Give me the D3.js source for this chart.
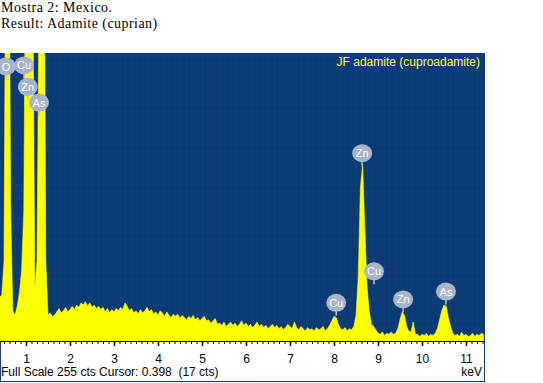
<!DOCTYPE html>
<html>
<head>
<meta charset="utf-8">
<script src="https://cdn.jsdelivr.net/npm/d3@7"></script>
<style>
  html, body { margin: 0; padding: 0; background: #ffffff; }
  svg { display: block; }
</style>
</head>
<body>
<svg id="chart" width="543" height="383"></svg>
<script>
// ---- data ----
const headerLines = ["Mostra 2: Mexico.", "Result: Adamite (cuprian)"];
const spectrumTitle = "JF adamite (cuproadamite)";
const statusText = "Full Scale 255 cts Cursor: 0.398  (17 cts)";
const unitLabel = "keV";
const fullScale = 255;

// channel calibration: energy of first channel and step (keV)
const energyStart = 0.40;
const energyStep = 0.05;
// counts per channel, 0.40 .. 11.40 keV
const counts = [
  38, 40, 70, 450, 520, 120, 26, 22, 30, 42, 62, 115, 420, 700, 650, 360, 46, 70, 320, 800,
  480, 70, 22, 24, 21, 22, 25, 28, 24, 26, 29, 25, 27, 30, 27, 31, 29, 33, 31, 34,
  30, 33, 29, 31, 28, 30, 27, 29, 25, 28, 24, 27, 25, 28, 26, 29, 27, 33, 30, 26,
  28, 24, 26, 23, 27, 24, 26, 29, 25, 27, 23, 25, 22, 26, 24, 21, 25, 22, 20, 23,
  21, 23, 19, 22, 20, 18, 21, 19, 22, 18, 20, 17, 19, 21, 17, 18, 15, 17, 19, 14,
  15, 13, 16, 12, 14, 16, 13, 15, 12, 14, 17, 13, 15, 12, 14, 11, 13, 16, 12, 14,
  11, 13, 10, 12, 14, 11, 13, 10, 12, 9, 11, 14, 12, 10, 16, 11, 9, 12, 10, 8,
  11, 9, 10, 8, 11, 9, 10, 12, 8, 10, 13, 17, 21, 20, 14, 10, 9, 11, 8, 10,
  9, 12, 22, 55, 135, 156, 100, 48, 26, 14, 12, 9, 6, 5, 7, 4, 6, 5, 7, 5,
  6, 10, 18, 25, 22, 12, 8, 7, 16, 5, 5, 3, 5, 4, 6, 3, 5, 4, 6, 10,
  18, 26, 31, 30, 20, 12, 6, 4, 5, 3, 7, 4, 5, 3, 4, 6, 3, 5, 4, 6, 5
];

const majorTicks = [1, 2, 3, 4, 5, 6, 7, 8, 9, 10, 11];
const tickLabels = ["1", "2", "3", "4", "5", "6", "7", "8", "9", "10", "11"];

// peak identification markers (element, energy keV, marker height in counts)
const peakNames    = ["O",   "Cu",  "Zn",  "As",  "Zn",  "Cu",  "Cu",  "Zn",  "As"];
const peakEnergies = [0.545, 0.955, 1.04,  1.295, 8.64,  8.91,  8.05,  9.57,  10.545];
const peakHeights  = [243,   244,   225,   211,   166,   61,    33,    36,    43];

// ---- layout ----
const svg = d3.select("#chart");
const plot = { left: 0, right: 484, top: 53, bottom: 340 };

const x = d3.scaleLinear().domain([0, 11]).range([-18, 466]);
const y = d3.scaleLinear().domain([0, fullScale]).range([plot.bottom, plot.top]);

// header text
svg.selectAll("text.header").data(headerLines).join("text")
  .attr("class", "header")
  .attr("x", 1)
  .attr("y", (d, i) => 12 + i * 16)
  .attr("font-family", "'Liberation Serif', 'Times New Roman', serif")
  .attr("font-size", 14)
  .attr("letter-spacing", 0.45)
  .attr("fill", "#000")
  .text(d => d);

// axis panel frame
svg.append("rect")
  .attr("x", 0.5).attr("y", plot.top + 0.5)
  .attr("width", plot.right).attr("height", 381 - plot.top)
  .attr("fill", "#ffffff").attr("stroke", "#1b3c6e").attr("stroke-width", 1);

// plot background
svg.append("rect")
  .attr("x", plot.left).attr("y", plot.top)
  .attr("width", plot.right - plot.left + 1).attr("height", plot.bottom - plot.top + 1)
  .attr("fill", "#0b3a74");

svg.append("defs").append("clipPath").attr("id", "clip")
  .append("rect")
  .attr("x", plot.left).attr("y", plot.top)
  .attr("width", plot.right - plot.left + 1).attr("height", plot.bottom - plot.top + 1);

const g = svg.append("g").attr("clip-path", "url(#clip)");

// faint grid
const gridX = d3.range(0, 11.6, 0.125);
g.selectAll("line.gx").data(gridX).join("line")
  .attr("x1", d => Math.round(x(d)) + 0.5).attr("x2", d => Math.round(x(d)) + 0.5)
  .attr("y1", plot.top).attr("y2", plot.bottom)
  .attr("stroke", "#12427c").attr("stroke-width", 1).attr("opacity", 0.5);
const gridY = d3.range(0, 256, 6);
g.selectAll("line.gy").data(gridY).join("line")
  .attr("x1", plot.left).attr("x2", plot.right)
  .attr("y1", d => Math.round(y(d)) + 0.5).attr("y2", d => Math.round(y(d)) + 0.5)
  .attr("stroke", "#12427c").attr("stroke-width", 1).attr("opacity", 0.5);

// spectrum
const spectrum = counts.map((c, i) => ({ e: energyStart + i * energyStep, c }));
const area = d3.area()
  .x(d => x(d.e))
  .y0(plot.bottom + 1)
  .y1(d => y(d.c));
g.append("path").datum(spectrum)
  .attr("d", area)
  .attr("fill", "#ffff00")
  .attr("stroke", "#ffff00").attr("stroke-width", 0.6);

// spectrum title
g.append("text")
  .attr("x", 480).attr("y", 66)
  .attr("text-anchor", "end")
  .attr("font-family", "'Liberation Sans', Arial, sans-serif")
  .attr("font-size", 12)
  .attr("fill", "#ffff40")
  .text(spectrumTitle);

// peak markers
const markers = g.selectAll("g.marker").data(peakNames.map((n, i) => ({
  n, e: peakEnergies[i], h: peakHeights[i]
}))).join("g").attr("class", "marker")
  .attr("transform", d => `translate(${x(d.e)},${y(d.h)})`);
markers.append("line")
  .attr("x1", 0).attr("x2", 0).attr("y1", 6).attr("y2", 13)
  .attr("stroke", "#b8c3d6").attr("stroke-width", 1.5);
markers.append("ellipse")
  .attr("rx", 10).attr("ry", 9)
  .attr("fill", "#a8b4ca");
markers.append("text")
  .attr("text-anchor", "middle")
  .attr("y", 4)
  .attr("font-family", "'Liberation Sans', Arial, sans-serif")
  .attr("font-size", 11)
  .attr("fill", "#ffffff")
  .text(d => d.n);

// axis
const axisG = svg.append("g").attr("transform", `translate(0,${plot.bottom + 1})`);
axisG.append("line")
  .attr("x1", 1).attr("x2", plot.right).attr("y1", 0.5).attr("y2", 0.5)
  .attr("stroke", "#000").attr("stroke-width", 1.2);

const minorTicks = d3.range(0, 11.45, 0.125).filter(v => x(v) > 1 && x(v) < plot.right);
const minorAxis = d3.axisBottom(x).tickValues(minorTicks).tickSize(3).tickFormat("");
axisG.append("g").call(minorAxis)
  .call(s => s.select(".domain").remove())
  .call(s => s.selectAll("line").attr("stroke", "#000"));

const majorAxis = d3.axisBottom(x).tickValues(majorTicks).tickSize(5).tickPadding(8)
  .tickFormat((d, i) => tickLabels[i]);
axisG.append("g").call(majorAxis)
  .call(s => s.select(".domain").remove())
  .call(s => s.selectAll("line").attr("stroke", "#000").attr("stroke-width", 1.5))
  .call(s => s.selectAll("text")
    .attr("font-family", "'Liberation Sans', Arial, sans-serif")
    .attr("font-size", 12)
    .attr("fill", "#000"));

// status line and unit
svg.append("text")
  .attr("x", 1).attr("y", 376)
  .attr("xml:space", "preserve")
  .style("white-space", "pre")
  .attr("font-family", "'Liberation Sans', Arial, sans-serif")
  .attr("font-size", 12)
  .attr("fill", "#000")
  .text(statusText);

svg.append("text")
  .attr("x", 482).attr("y", 376)
  .attr("text-anchor", "end")
  .attr("font-family", "'Liberation Sans', Arial, sans-serif")
  .attr("font-size", 12)
  .attr("fill", "#000")
  .text(unitLabel);
</script>
</body>
</html>
